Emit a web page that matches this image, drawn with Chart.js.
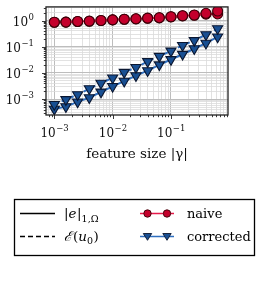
<!DOCTYPE html>
<html><head><meta charset="utf-8">
<script src="https://cdn.jsdelivr.net/npm/chart.js@4"></script>
<style>html,body{margin:0;padding:0;background:#fff}#wrap{width:263px;height:288px}</style>
</head><body><div id="wrap"><canvas id="c" width="263" height="288"></canvas></div>
<script>
// ---- data ----
const featureSize   = [0.001, 0.00158, 0.00251, 0.00398, 0.00631, 0.01, 0.0158, 0.0251, 0.0398, 0.0631, 0.1, 0.158, 0.251, 0.398, 0.631];
const naiveSemi     = [0.86, 0.87, 0.92, 0.94, 1.0, 1.06, 1.12, 1.15, 1.22, 1.26, 1.37, 1.50, 1.58, 1.75, 1.78];
const naiveEst      = [0.86, 0.87, 0.92, 0.95, 1.0, 1.06, 1.12, 1.16, 1.23, 1.28, 1.39, 1.52, 1.62, 1.88, 2.3];
const correctedSemi = [4.2e-4, 5.2e-4, 7.9e-4, 1.15e-3, 1.88e-3, 3.07e-3, 4.87e-3, 7.9e-3, 1.22e-2, 2.05e-2, 3.26e-2, 5.16e-2, 8.4e-2, 0.137, 0.237];
const correctedEst  = [6.3e-4, 9.7e-4, 1.5e-3, 2.51e-3, 4.1e-3, 6.49e-3, 1.06e-2, 1.63e-2, 2.74e-2, 4.34e-2, 6.88e-2, 0.112, 0.173, 0.29, 0.487];
const xTickExps = [-3, -2, -1];
const yTickExps = [0, -1, -2, -3];
const xTitle = 'feature size |\u03B3|';
const seriesNames = ['naive', 'corrected'];

const RED_LINE = '#e8194a', RED_FILL = '#c4002c', RED_EDGE = '#3a0008';
const BLUE_LINE = '#2f6fc0', BLUE_FILL = '#184f92', BLUE_EDGE = '#0a1630';
const FONT = '"DejaVu Serif", serif';

function logTicks(min, max) {
  const out = [];
  for (let e = Math.floor(Math.log10(min)); e <= Math.ceil(Math.log10(max)); e++) {
    for (let m = 1; m <= 9; m++) {
      const v = m * Math.pow(10, e);
      if (v >= min && v <= max) out.push({ value: v });
    }
  }
  return out;
}
const isMajor = v => Math.abs(Math.log10(v) - Math.round(Math.log10(v))) < 1e-6;

function pts(ys) { return featureSize.map((x, i) => ({ x, y: ys[i] })); }

function ds(ys, red, dashed) {
  return {
    data: pts(ys),
    borderColor: red ? RED_LINE : BLUE_LINE,
    borderWidth: 2,
    borderDash: dashed ? [5, 3] : [],
    pointStyle: red ? 'circle' : 'triangle',
    pointRotation: red ? 0 : 180,
    pointRadius: red ? 5 : 5.8,
    pointBackgroundColor: red ? RED_FILL : BLUE_FILL,
    pointBorderColor: red ? RED_EDGE : BLUE_EDGE,
    pointBorderWidth: 1.1,
    fill: false, tension: 0
  };
}

const overlay = {
  id: 'overlay',
  afterDraw(chart) {
    const ctx = chart.ctx, a = chart.chartArea;
    const xs = chart.scales.x, ys = chart.scales.y;
    ctx.save();
    // frame
    ctx.strokeStyle = '#222'; ctx.lineWidth = 1.3;
    ctx.strokeRect(a.left, a.top, a.right - a.left, a.bottom - a.top);
    // tick marks
    ctx.lineWidth = 0.9; ctx.strokeStyle = '#222';
    xs.ticks.forEach(t => {
      const px = Math.round(xs.getPixelForValue(t.value)) + 0.5;
      const L = isMajor(t.value) ? 4 : 2.2;
      ctx.beginPath(); ctx.moveTo(px, a.bottom); ctx.lineTo(px, a.bottom + L); ctx.stroke();
    });
    ys.ticks.forEach(t => {
      const py = Math.round(ys.getPixelForValue(t.value)) + 0.5;
      const L = isMajor(t.value) ? 4 : 2.2;
      ctx.beginPath(); ctx.moveTo(a.left, py); ctx.lineTo(a.left - L, py); ctx.stroke();
    });
    // tick labels
    const fs = 12, ss = 8.5;
    ctx.fillStyle = '#111'; ctx.textBaseline = 'alphabetic';
    xTickExps.forEach(e => {
      const px = xs.getPixelForValue(Math.pow(10, e));
      ctx.font = fs + 'px ' + FONT; const wb = ctx.measureText('10').width;
      const sup = '\u2212' + Math.abs(e);
      ctx.font = ss + 'px ' + FONT; const ws = ctx.measureText(sup).width;
      const x0 = px - (wb + ws) / 2;
      ctx.font = fs + 'px ' + FONT; ctx.textAlign = 'left';
      ctx.fillText('10', x0, 137);
      ctx.font = ss + 'px ' + FONT; ctx.fillText(sup, x0 + wb + 0.5, 130.5);
    });
    yTickExps.forEach(e => {
      const py = ys.getPixelForValue(Math.pow(10, e));
      const sup = e === 0 ? '0' : '\u2212' + Math.abs(e);
      ctx.font = ss + 'px ' + FONT; const ws = ctx.measureText(sup).width;
      ctx.font = fs + 'px ' + FONT; const wb = ctx.measureText('10').width;
      const xr = 34;
      ctx.textAlign = 'left';
      ctx.fillText('10', xr - ws - wb - 0.5, py + 5);
      ctx.font = ss + 'px ' + FONT; ctx.fillText(sup, xr - ws, py - 1);
    });
    // axis title
    ctx.font = '13.5px ' + FONT; ctx.textAlign = 'center';
    ctx.fillText(xTitle, (a.left + a.right) / 2, 158);

    // legend
    ctx.lineWidth = 1.3; ctx.strokeStyle = '#000';
    ctx.strokeRect(14.5, 199.5, 240, 56);
    const r1 = 213.5, r2 = 236.5;
    ctx.lineWidth = 1.5; ctx.strokeStyle = '#000';
    ctx.beginPath(); ctx.moveTo(20, r1); ctx.lineTo(55, r1); ctx.stroke();
    ctx.setLineDash([5, 3]);
    ctx.beginPath(); ctx.moveTo(20, r2); ctx.lineTo(55, r2); ctx.stroke();
    ctx.setLineDash([]);
    ctx.textAlign = 'left'; ctx.fillStyle = '#000';
    // |e|_{1,Ω}
    let x = 64;
    ctx.font = '13.5px ' + FONT; ctx.fillText('|', x, r1 + 4.5); x += ctx.measureText('|').width;
    ctx.font = 'italic 13.5px ' + FONT; ctx.fillText('e', x, r1 + 4.5); x += ctx.measureText('e').width + 0.5;
    ctx.font = '13.5px ' + FONT; ctx.fillText('|', x, r1 + 4.5); x += ctx.measureText('|').width;
    ctx.font = '9.5px ' + FONT; ctx.fillText('1,\u03A9', x, r1 + 8);
    // E(u_0)
    x = 64;
    ctx.font = 'italic 13.5px ' + FONT; ctx.fillText('\u2130', x, r2 + 4.5); x += ctx.measureText('\u2130').width + 1;
    ctx.font = '13.5px ' + FONT; ctx.fillText('(', x, r2 + 4.5); x += ctx.measureText('(').width;
    ctx.font = 'italic 13.5px ' + FONT; ctx.fillText('u', x, r2 + 4.5); x += ctx.measureText('u').width;
    ctx.font = '9.5px ' + FONT; ctx.fillText('0', x, r2 + 7.5); x += ctx.measureText('0').width + 0.5;
    ctx.font = '13.5px ' + FONT; ctx.fillText(')', x, r2 + 4.5);
    // marker handles
    function handle(y, red) {
      ctx.strokeStyle = red ? RED_LINE : BLUE_LINE; ctx.lineWidth = 1.6;
      ctx.beginPath(); ctx.moveTo(140, y); ctx.lineTo(174, y); ctx.stroke();
      [147.5, 167].forEach(cx => {
        ctx.fillStyle = red ? RED_FILL : BLUE_FILL;
        ctx.strokeStyle = red ? RED_EDGE : BLUE_EDGE; ctx.lineWidth = 0.9;
        ctx.beginPath();
        if (red) ctx.arc(cx, y, 3.7, 0, Math.PI * 2);
        else { ctx.moveTo(cx - 4.2, y - 3); ctx.lineTo(cx + 4.2, y - 3); ctx.lineTo(cx, y + 3.8); ctx.closePath(); }
        ctx.fill(); ctx.stroke();
      });
    }
    handle(r1, true); handle(r2, false);
    ctx.fillStyle = '#000'; ctx.font = '13px ' + FONT;
    ctx.fillText(seriesNames[0], 187, r1 + 4.5);
    ctx.fillText(seriesNames[1], 187, r2 + 4.5);
    ctx.restore();
  }
};

new Chart(document.getElementById('c'), {
  type: 'line',
  data: {
    datasets: [
      ds(naiveEst, true, true),
      ds(naiveSemi, true, false),
      ds(correctedEst, false, true),
      ds(correctedSemi, false, false)
    ]
  },
  options: {
    responsive: false, animation: false, devicePixelRatio: 1,
    layout: { padding: { left: 46, right: 35, top: 5, bottom: 173 } },
    plugins: { legend: { display: false }, tooltip: { enabled: false } },
    scales: {
      x: {
        type: 'logarithmic', min: 7.2e-4, max: 0.95,
        afterBuildTicks: s => { s.ticks = logTicks(s.min, s.max); },
        ticks: { display: false },
        border: { display: false },
        grid: { drawTicks: false, lineWidth: c => isMajor(c.tick.value) ? 1 : 0.8,
                color: c => isMajor(c.tick.value) ? '#bdbdbd' : '#dadada' }
      },
      y: {
        type: 'logarithmic', min: 2.5e-4, max: 3.3,
        afterBuildTicks: s => { s.ticks = logTicks(s.min, s.max); },
        ticks: { display: false },
        border: { display: false },
        grid: { drawTicks: false, lineWidth: c => isMajor(c.tick.value) ? 1 : 0.8,
                color: c => isMajor(c.tick.value) ? '#bdbdbd' : '#dadada' }
      }
    }
  },
  plugins: [overlay]
});
</script></body></html>
